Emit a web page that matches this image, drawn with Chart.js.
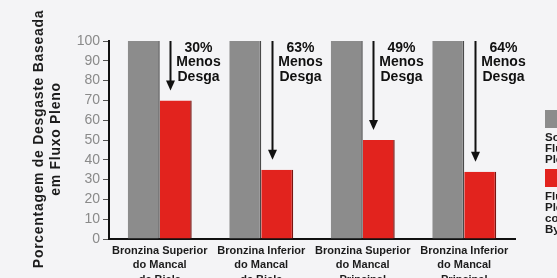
<!DOCTYPE html>
<html>
<head>
<meta charset="utf-8">
<script src="https://cdn.jsdelivr.net/npm/chart.js@4"></script>
<style>
  html,body{margin:0;padding:0;background:#f4f4f6;}
  #wrap{width:557px;height:278px;position:relative;overflow:hidden;}
  canvas{display:block;}
</style>
</head>
<body>
<div id="wrap"><canvas id="c" width="557" height="278"></canvas></div>
<script>
const categories = [
  ["Bronzina Superior", "do Mancal", "de Biela"],
  ["Bronzina Inferior", "do Mancal", "de Biela"],
  ["Bronzina Superior", "do Mancal", "Principal"],
  ["Bronzina Inferior", "do Mancal", "Principal"]
];
const fullFlowValues = [100, 100, 100, 100];
const bypassValues = [70, 35, 50, 34];
const reductionLabels = ["30%", "63%", "49%", "64%"];
const reductionText = ["Menos", "Desga"];
const seriesNames = ["Somente Fluxo Pleno", "Fluxo Pleno com By-pass"];
const legendLines = [["Somente", "Fluxo", "Pleno"], ["Fluxo", "Pleno", "com", "By-pass"]];
const yTitleLines = ["Porcentagem de Desgaste Baseada", "em Fluxo Pleno"];
const yTicks = [0, 10, 20, 30, 40, 50, 60, 70, 80, 90, 100];

const FONT = "'Liberation Sans', Arial, Helvetica, sans-serif";
const GRAY = "#8c8c8c";
const RED = "#e2231e";

const annotationPlugin = {
  id: "annot",
  afterDatasetsDraw(chart) {
    const ctx = chart.ctx;
    const y = chart.scales.y;
    const meta = chart.getDatasetMeta(1);
    ctx.save();
    meta.data.forEach((bar, i) => {
      const ax = Math.round(bar.x - bar.width / 2 + bar.width / 3) + 0.5;
      const top = y.getPixelForValue(yTicks[yTicks.length - 1]);
      const tip = bar.y - 10;
      ctx.strokeStyle = "#111";
      ctx.fillStyle = "#111";
      ctx.lineWidth = 2;
      ctx.beginPath();
      ctx.moveTo(ax, top);
      ctx.lineTo(ax, tip - 8);
      ctx.stroke();
      ctx.beginPath();
      ctx.moveTo(ax - 4.5, tip - 10);
      ctx.lineTo(ax + 4.5, tip - 10);
      ctx.lineTo(ax, tip);
      ctx.closePath();
      ctx.fill();
      ctx.font = "bold 14px " + FONT;
      ctx.textAlign = "center";
      ctx.textBaseline = "middle";
      const tx = ax + 28;
      const lines = [reductionLabels[i]].concat(reductionText);
      lines.forEach((t, k) => ctx.fillText(t, tx, top + 7 + k * 14.5));
    });
    // y title
    ctx.save();
    ctx.translate(0, 139);
    ctx.rotate(-Math.PI / 2);
    ctx.font = "bold 14px " + FONT;
    if ('letterSpacing' in ctx) ctx.letterSpacing = "0.7px";
    ctx.fillStyle = "#1c1c1c";
    ctx.textAlign = "center";
    ctx.textBaseline = "middle";
    ctx.fillText(yTitleLines[0], 0, 39);
    ctx.fillText(yTitleLines[1], 0, 56);
    ctx.restore();
    // legend
    const colors = [GRAY, RED];
    const boxTops = [110, 169];
    ctx.font = "bold 11.5px " + FONT;
    ctx.textAlign = "left";
    ctx.textBaseline = "middle";
    legendLines.forEach((ls, d) => {
      ctx.fillStyle = colors[d];
      ctx.fillRect(545, boxTops[d], 20, 18);
      ctx.fillStyle = "#1c1c1c";
      ls.forEach((t, k) => ctx.fillText(t, 545, boxTops[d] + 27.5 + k * 11));
    });
    ctx.restore();
  }
};

new Chart(document.getElementById("c"), {
  type: "bar",
  data: {
    labels: categories,
    datasets: [
      {
        label: seriesNames[0],
        data: fullFlowValues,
        backgroundColor: GRAY,
        borderColor: "#4a4a4a",
        borderWidth: {top: 0, left: 0, bottom: 0, right: 1.5},
        borderSkipped: false
      },
      {
        label: seriesNames[1],
        data: bypassValues,
        backgroundColor: RED,
        borderColor: "#7a1410",
        borderWidth: {top: 0, left: 0, bottom: 0, right: 1.5},
        borderSkipped: false
      }
    ]
  },
  options: {
    responsive: false,
    animation: false,
    devicePixelRatio: 1,
    layout: {padding: {left: 0, top: 41, right: 42, bottom: 0}},
    plugins: {legend: {display: false}, tooltip: {enabled: false}},
    datasets: {bar: {categoryPercentage: 0.63, barPercentage: 1.0}},
    scales: {
      x: {
        afterFit: s => { s.height = 39; },
        grid: {display: false, drawTicks: false},
        border: {display: true, color: "#111", width: 2},
        ticks: {
          color: "#1c1c1c",
          padding: 5,
          maxRotation: 0,
          autoSkip: false,
          font: {family: FONT, size: 11, weight: "bold", lineHeight: 1.3}
        }
      },
      y: {
        min: 0,
        max: 100,
        afterFit: s => { s.width = 109; },
        afterBuildTicks: s => { s.ticks = yTicks.map(v => ({value: v})); },
        grid: {display: true, drawOnChartArea: false, drawTicks: true, tickLength: 6, color: "#555", lineWidth: 1},
        border: {display: true, color: "#111", width: 2},
        ticks: {
          color: "#8a8a8a",
          padding: 3,
          font: {family: FONT, size: 14}
        }
      }
    }
  },
  plugins: [annotationPlugin]
});
</script>
</body>
</html>
